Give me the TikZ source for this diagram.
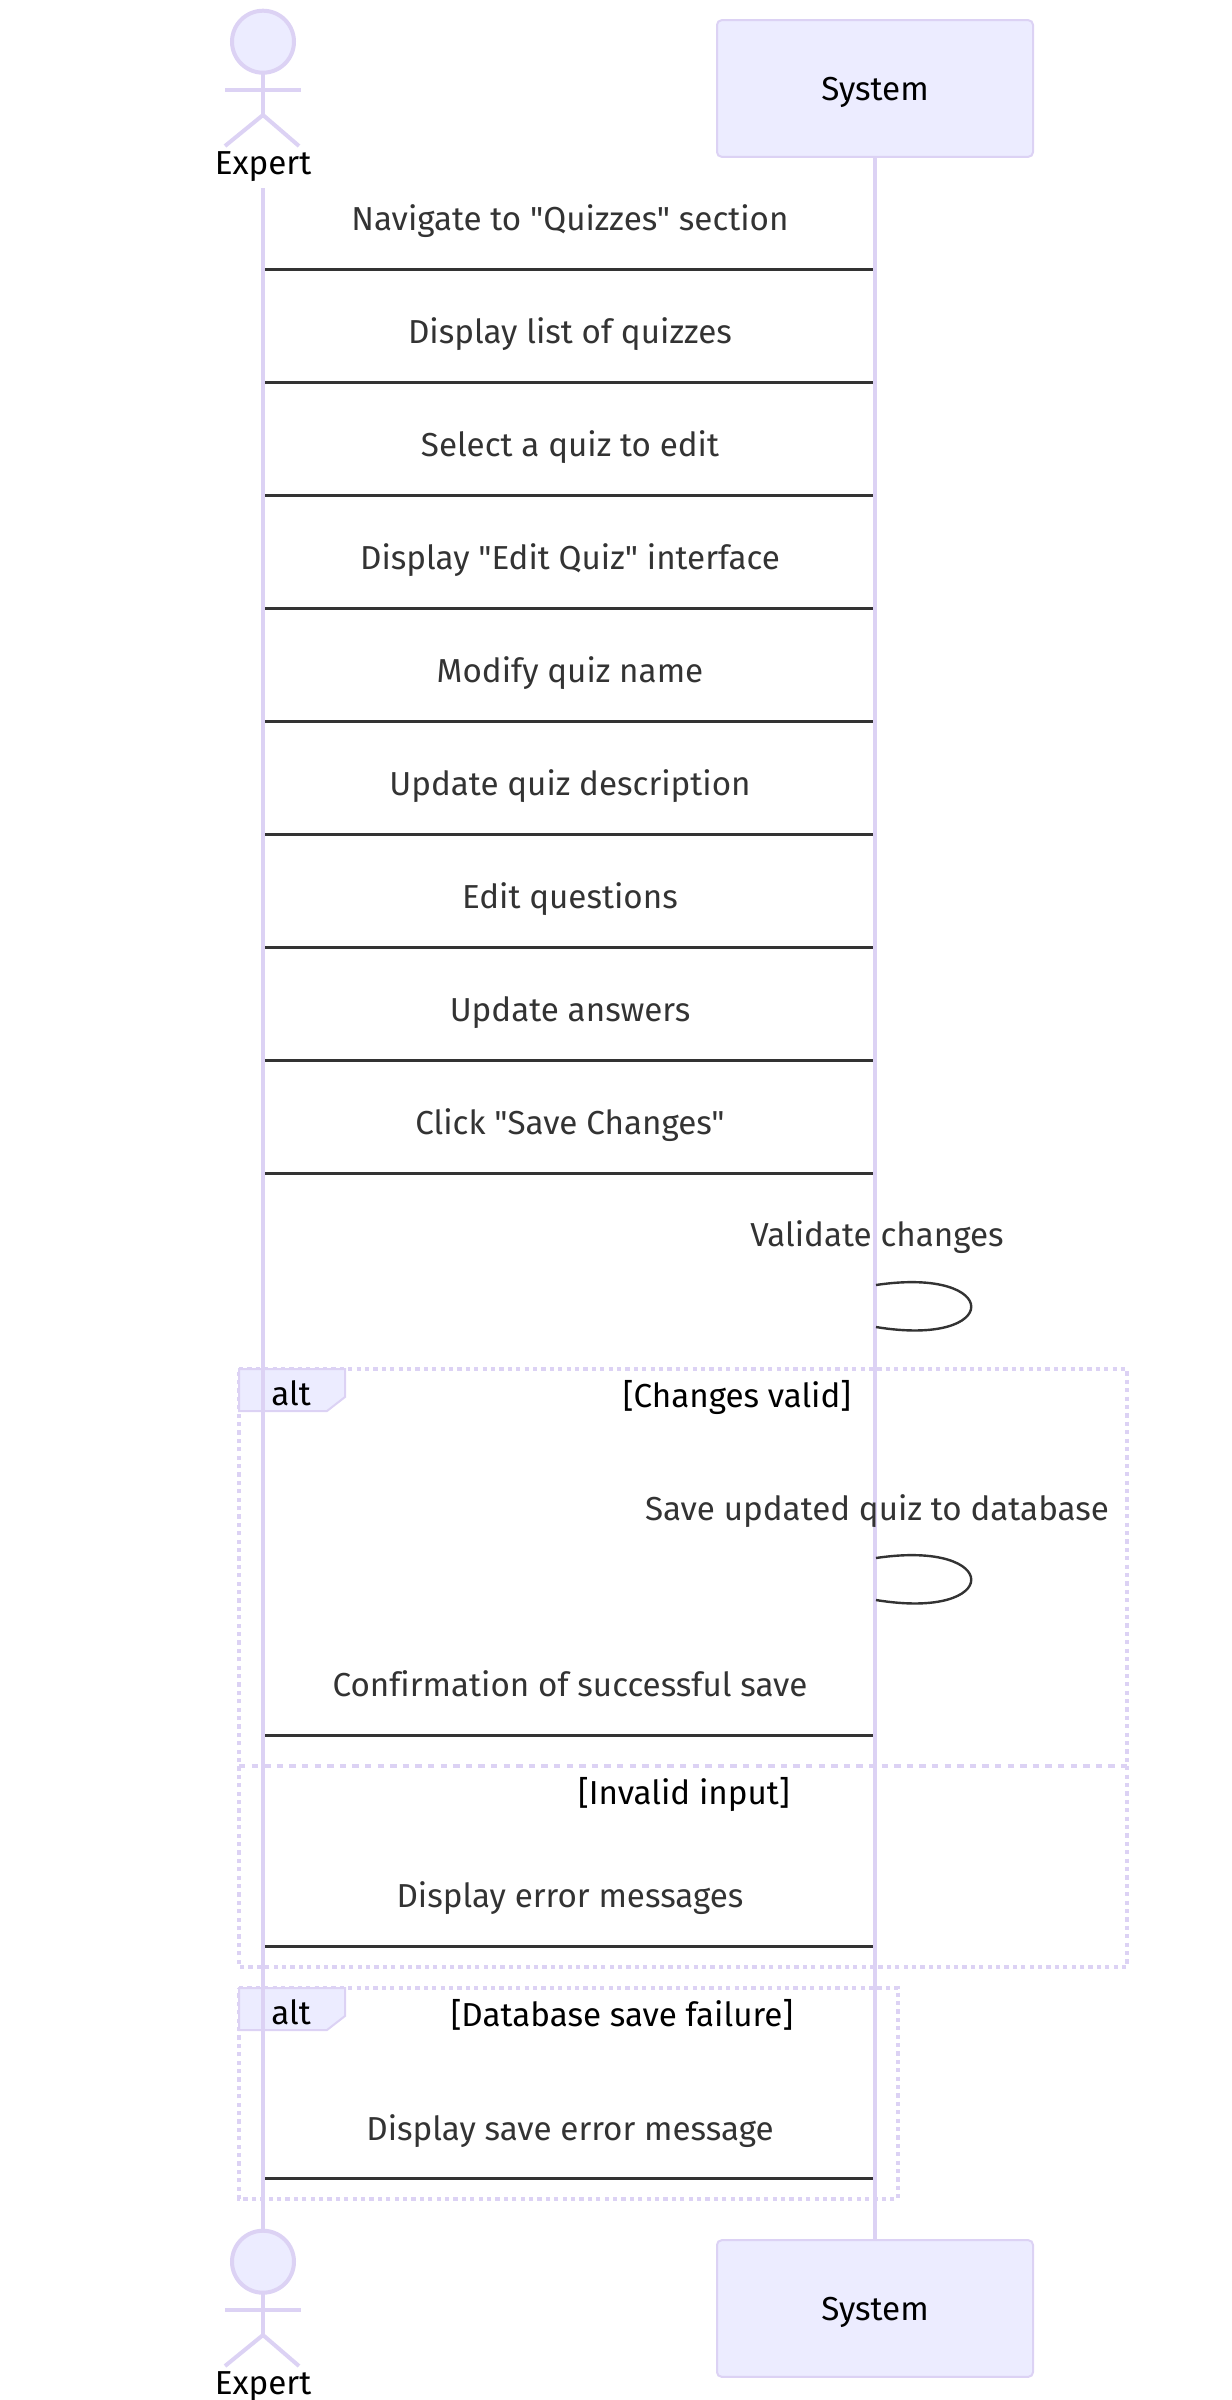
\documentclass[tikz,border=0pt]{standalone}
\usepackage{fontspec}
\setmainfont{Fira Sans}[Ligatures={TeXOff,CommonOff}]
\definecolor{lifecol}{HTML}{DCD2F4}
\definecolor{boxfill}{HTML}{ECECFF}
\definecolor{msgcol}{HTML}{333333}
\tikzset{
  % actor parts and lifelines
  head/.style={circle, draw=lifecol, fill=boxfill, line width=2pt, minimum size=31pt, inner sep=0pt, outer sep=0pt},
  limb/.style={draw=lifecol, line width=2pt},
  lifeline/.style={draw=lifecol, line width=2.2pt},
  sysbox/.style={rectangle, rounded corners=2.3pt, draw=lifecol, fill=boxfill, line width=1pt, minimum width=158pt, minimum height=68.3pt, outer sep=0pt},
  % messages
  msgline/.style={draw=msgcol, line width=1.35pt},
  selfloop/.style={draw=msgcol, line width=1.2pt},
  msgtext/.style={text=msgcol, anchor=base, font=\fontsize{16.6}{19}\selectfont, inner sep=0pt},
  % frames
  blacktext/.style={text=black, anchor=base, font=\fontsize{16.6}{19}\selectfont, inner sep=0pt},
  framebox/.style={draw=lifecol, line width=1.7pt, dash pattern=on 2.1pt off 2.1pt},
  divider/.style={draw=lifecol, line width=1.7pt, dash pattern=on 3.2pt off 3.1pt},
  taglabel/.style={fill=boxfill, draw=lifecol, line width=1pt},
}
\begin{document}
\begin{tikzpicture}[x=0.5pt, y=-0.5pt]
\useasboundingbox (0,0) rectangle (1232,2400);

% Frames
\draw[framebox] (239,1369) -- (1127,1369) -- (1127,1967) -- (239,1967) -- cycle;
\draw[divider] (239,1766) -- (1127,1766);
\draw[framebox] (239,1988) -- (898,1988) -- (898,2199) -- (239,2199) -- cycle;
\foreach \y in {1369, 1988} {
    \draw[taglabel] (239,\y) -- (345,\y) -- (345,\y+28) -- (327,\y+42) -- (239,\y+42) -- cycle;
}

% Actors
\foreach \n/\y in {top/0, bot/2220} {
    \node[head] (head\n) at (263,41.7+\y) {};
    \coordinate (hip\n) at (263,115+\y);
    \coordinate (armL\n) at (225,90+\y);
    \coordinate (armR\n) at (301,90+\y);
    \coordinate (legL\n) at (225,146+\y);
    \coordinate (legR\n) at (299,146+\y);
    \draw[limb] (head\n.south) -- (hip\n);
    \draw[limb] (armL\n) -- (armR\n);
    \draw[limb] (legL\n) -- (hip\n) -- (legR\n);
    \node[blacktext] (expert\n) at (263,174+\y) {Expert};
    \node[sysbox] (sys\n) at (875,88.5+\y) {};
    \node[blacktext] (syslabel\n) at (875,100.5+\y) {System};
}

% Lifelines
\coordinate (lifestart) at (263,188);
\draw[lifeline] (lifestart) -- (headbot.north);
\draw[lifeline] (systop.south) -- (sysbot.north);

% Messages
\foreach \k/\t in {0/{Navigate to "Quizzes" section}, 1/{Display list of quizzes}, 2/{Select a quiz to edit},
                   3/{Display "Edit Quiz" interface}, 4/{Modify quiz name}, 5/{Update quiz description},
                   6/{Edit questions}, 7/{Update answers}, 8/{Click "Save Changes"}} {
    \node[msgtext] (msg\k) at (570,230.5+113*\k) {\t};
    \coordinate (from\k) at (265,269.3+113.05*\k);
    \coordinate (to\k) at (873,269.3+113.05*\k);
    \draw[msgline] (from\k) -- (to\k);
}
\foreach \n/\ty/\ly/\t in {conf/1696/1735.4/{Confirmation of successful save}, err/1907/1946.4/{Display error messages}, fail/2140/2178.4/{Display save error message}} {
    \node[msgtext] (msg\n) at (570,\ty) {\t};
    \coordinate (from\n) at (265,\ly);
    \coordinate (to\n) at (873,\ly);
    \draw[msgline] (from\n) -- (to\n);
}

% Self messages
\foreach \n/\ty/\ly/\t in {valid/1246/1284/{Validate changes}, save/1520/1557/{Save updated quiz to database}} {
    \node[msgtext] (self\n) at (877,\ty) {\t};
    \coordinate (loopA\n) at (876,\ly+1);
    \coordinate (loopB\n) at (876,\ly+43);
    \draw[selfloop] (loopA\n) .. controls (1003,\ly-18) and (1003,\ly+64) .. (loopB\n);
}

% Frame labels
\node[blacktext] (alt1) at (291,1405) {alt};
\node[blacktext] (alt2) at (291,2024.5) {alt};
\node[blacktext] (cond1) at (737,1407.5) {[Changes valid]};
\node[blacktext] (cond2) at (684,1804) {[Invalid input]};
\node[blacktext] (cond3) at (622,2026) {[Database save failure]};

\end{tikzpicture}
\end{document}
